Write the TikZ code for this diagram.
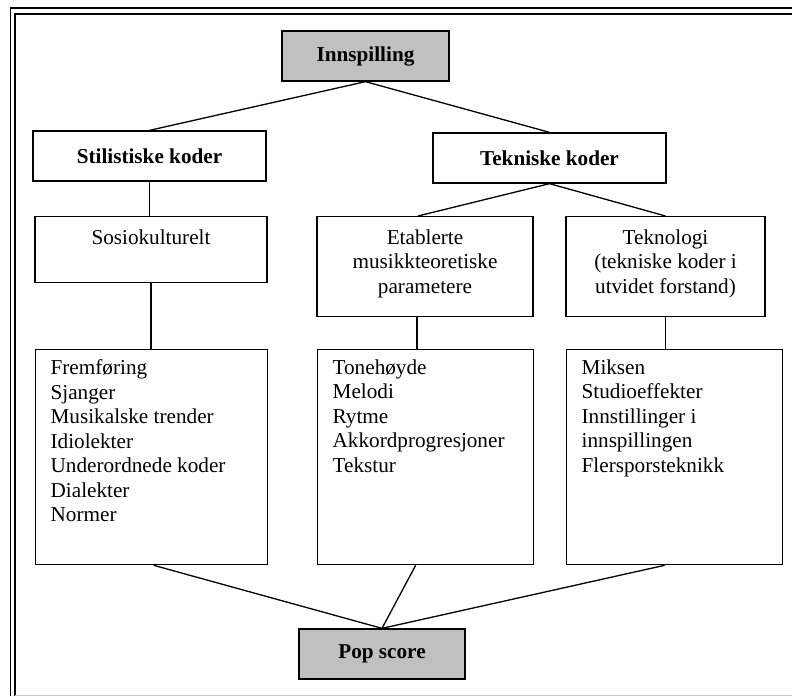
\documentclass[tikz,border=0pt]{standalone}
\usepackage{fontspec}
\setmainfont{Liberation Serif}
\usetikzlibrary{positioning}
\definecolor{boxgrey}{HTML}{C0C0C0}
\newcommand{\diafont}{\fontsize{10.6}{12.25}\selectfont}
\tikzset{
  head/.style={rectangle, draw=black, line width=0.65pt, fill=boxgrey, font=\diafont\bfseries, minimum height=25pt, inner sep=0},
  code/.style={rectangle, draw=black, line width=0.65pt, fill=white, font=\diafont\bfseries, minimum width=116.5pt, minimum height=25pt, inner sep=0},
  group/.style={rectangle, draw=black, line width=0.65pt, font=\diafont, anchor=north, inner xsep=0, inner ysep=6.5pt},
  list/.style={rectangle, draw=black, line width=0.65pt, font=\diafont, anchor=north west, inner xsep=7.5pt, inner ysep=5pt},
  link/.style={line width=0.65pt},
  frame/.style={line width=0.85pt}
}

\begin{document}
\begin{tikzpicture}[x=0.5pt, y=-0.5pt]
      \useasboundingbox (0,0) rectangle (792,696);
      \draw[frame](10.5, 696)--(10.5, 8)--(792, 8);
      \draw[frame](15, 696)--(15, 13.7)--(792, 13.7);
      \draw[black!20, line width=0.5pt](15, 695)--(792, 695);

      \node[head, minimum width=83.5pt](innsp) at (365.5, 56){Innspilling};
      \node[code](stil) at (149.5, 156){Stilistiske koder};
      \node[code](tekn) at (549.5, 158){Tekniske koder};

      \node[group](sosio) at (151, 216){\parbox[t][20pt][t]{116pt}{\centering Sosiokulturelt}};
      \node[group](etab) at (425, 216){\parbox[t][37pt][t]{108pt}{\centering Etablerte\\ musikkteoretiske\\ parametere}};
      \node[group](tekno) at (665.5, 216){\parbox[t][37pt][t]{99.5pt}{\centering Teknologi\\ (tekniske koder i\\ utvidet forstand)}};

      \node[list](frem) at (35, 349){\parbox[t][97.5pt][t]{101pt}{Fremføring\\ Sjanger\\ Musikalske trender\\ Idiolekter\\ Underordnede koder\\ Dialekter\\ Normer}};
      \node[list](tone) at (317, 349){\parbox[t][97.5pt][t]{93pt}{Tonehøyde\\ Melodi\\ Rytme\\ Akkordprogresjoner\\ Tekstur}};
      \node[list](miks) at (566, 349){\parbox[t][97.5pt][t]{93pt}{Miksen\\ Studioeffekter\\ Innstillinger i\\ innspillingen\\ Flersporsteknikk}};

      \node[head, minimum width=83pt](pop) at (382, 654){Pop score};

      \draw[link](innsp.south)--(stil.north);
      \draw[link](innsp.south)--(tekn.north);
      \draw[link](stil.south)--(stil.south |- sosio.north);
      \draw[link](sosio.south)--(sosio.south |- frem.north);
      \draw[link](tekn.south)--([xshift=-3.5pt]etab.north);
      \draw[link](tekn.south)--(tekno.north);
      \draw[link]([xshift=-4pt]etab.south)--([xshift=-4pt]etab.south |- tone.north);
      \draw[link](tekno.south)--(tekno.south |- miks.north);
      \draw[link]([xshift=1pt]frem.south)--(pop.north);
      \draw[link]([xshift=-5pt]tone.south)--(pop.north);
      \draw[link]([xshift=-5pt]miks.south)--(pop.north);
    \end{tikzpicture}
\end{document}
